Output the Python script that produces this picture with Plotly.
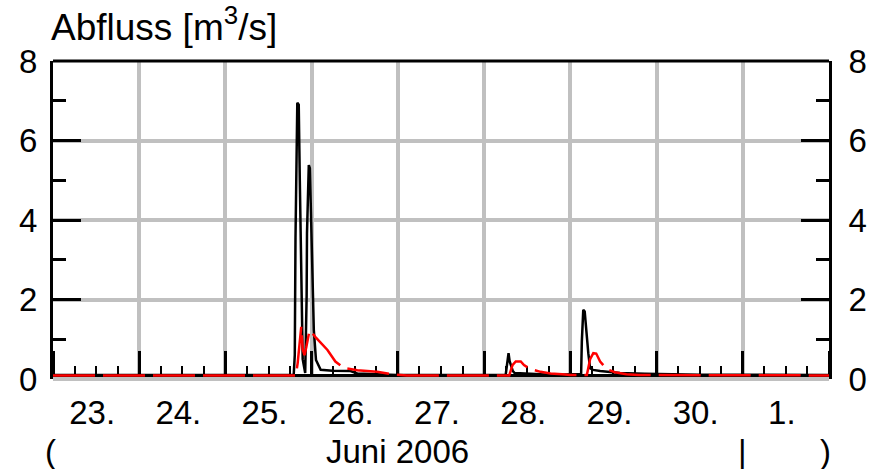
import plotly.graph_objects as go

# Abfluss-Ganglinie, 23. Juni - 1. Juli 2006
# Gemessener Abfluss (schwarz)
obs_time = [
    "2006-06-23 00:00", "2006-06-25 19:00", "2006-06-25 19:18", "2006-06-25 19:30",
    "2006-06-25 20:00", "2006-06-25 20:24", "2006-06-25 20:42", "2006-06-25 21:00",
    "2006-06-25 21:12", "2006-06-25 21:30", "2006-06-25 22:12", "2006-06-25 22:24",
    "2006-06-25 22:36", "2006-06-25 22:42", "2006-06-25 23:12", "2006-06-25 23:30",
    "2006-06-25 23:54", "2006-06-26 00:18", "2006-06-26 00:36", "2006-06-26 01:12",
    "2006-06-26 02:30", "2006-06-26 05:48", "2006-06-26 10:48", "2006-06-26 12:42",
    "2006-06-26 18:12", "2006-06-26 23:42",
    "2006-06-28 06:00", "2006-06-28 06:18", "2006-06-28 06:48", "2006-06-28 07:06",
    "2006-06-28 07:30", "2006-06-28 08:00", "2006-06-28 08:30", "2006-06-28 11:30",
    "2006-06-28 13:00", "2006-06-28 20:00",
    "2006-06-29 00:00", "2006-06-29 03:00", "2006-06-29 03:12", "2006-06-29 03:36",
    "2006-06-29 04:00", "2006-06-29 04:36", "2006-06-29 05:00", "2006-06-29 05:30",
    "2006-06-29 06:18", "2006-06-29 08:18", "2006-06-29 10:30", "2006-06-29 13:48",
    "2006-06-29 20:42", "2006-06-30 12:00", "2006-07-02 00:00",
]
obs_q = [
    0.10, 0.10, 0.60, 3.55,
    6.95, 6.90, 5.00, 3.10,
    1.50, 0.50, 0.15, 1.00,
    2.10, 3.67, 5.38, 5.30,
    3.67, 2.57, 1.23, 0.48,
    0.23, 0.21, 0.20, 0.14,
    0.12, 0.10,
    0.10, 0.30, 0.65, 0.45,
    0.35, 0.20, 0.15, 0.14,
    0.12, 0.10,
    0.12, 0.12, 0.94, 1.74,
    1.70, 0.98, 0.65, 0.27,
    0.23, 0.20, 0.18, 0.15,
    0.13, 0.11, 0.10,
]

# Simulierter Abfluss (rot)
sim_time = [
    "2006-06-23 00:00", "2006-06-25 19:36", "2006-06-25 20:06", "2006-06-25 20:42",
    "2006-06-25 21:06", "2006-06-25 21:30", "2006-06-25 22:00", "2006-06-25 22:30",
    "2006-06-25 23:00", "2006-06-25 23:24", "2006-06-26 00:00", "2006-06-26 01:00",
    "2006-06-26 04:24", "2006-06-26 06:36", "2006-06-26 09:00", "2006-06-26 12:42",
    "2006-06-26 18:12", "2006-06-26 22:18", "2006-06-27 02:30",
    "2006-06-28 07:00", "2006-06-28 07:54", "2006-06-28 08:48", "2006-06-28 10:12",
    "2006-06-28 11:06", "2006-06-28 12:00", "2006-06-28 13:00", "2006-06-28 15:42",
    "2006-06-28 18:30", "2006-06-28 21:42", "2006-06-29 00:00",
    "2006-06-29 04:36", "2006-06-29 05:00", "2006-06-29 05:30", "2006-06-29 06:24",
    "2006-06-29 07:12", "2006-06-29 08:18", "2006-06-29 10:06", "2006-06-29 12:24",
    "2006-06-29 15:36", "2006-06-29 19:00", "2006-07-02 00:00",
]
sim_q = [
    0.09, 0.09, 0.40, 1.00,
    1.31, 0.75, 0.60, 0.80,
    1.10, 1.22, 1.18, 1.06,
    0.73, 0.44, 0.28, 0.22,
    0.18, 0.12, 0.09,
    0.09, 0.35, 0.44, 0.44,
    0.35, 0.30, 0.25, 0.18,
    0.14, 0.12, 0.10,
    0.10, 0.30, 0.50, 0.65,
    0.64, 0.44, 0.25, 0.17,
    0.12, 0.10, 0.09,
]

x_range = ["2006-06-23 00:00", "2006-07-02 00:00"]
month_break = "2006-07-01 00:00"
month_mid = "2006-06-27 00:00"
month_label = "Juni 2006"
y_max = 8
x_axis_level = 0.1  # the time axis runs along the low-flow base line

FONT = "Liberation Sans, Arial, sans-serif"
GRID = "#c0c0c0"
TICK_SIZE = 33

fig = go.Figure()
fig.add_trace(go.Scatter(
    x=obs_time, y=obs_q, mode="lines",
    line=dict(color="black", width=2.5), yaxis="y", hoverinfo="skip",
))
fig.add_trace(go.Scatter(
    x=sim_time, y=sim_q, mode="lines",
    line=dict(color="#ff0000", width=2.5, dash="42px,8px"), yaxis="y2", hoverinfo="skip",
))

y_common = dict(
    range=[0, y_max], dtick=2, tick0=0,
    ticks="inside", ticklen=28, tickwidth=2.5, tickcolor="black",
    showline=True, linecolor="black", linewidth=3,
    tickfont=dict(family=FONT, size=TICK_SIZE, color="black"),
    minor=dict(dtick=1, ticks="inside", ticklen=13, tickwidth=2.5,
               tickcolor="black", showgrid=False),
    fixedrange=True,
)

fig.update_layout(
    width=879, height=469,
    margin=dict(l=53, r=43, t=61, b=90),
    paper_bgcolor="white", plot_bgcolor="white",
    showlegend=False,
    xaxis=dict(
        type="date", range=x_range,
        anchor="free", position=x_axis_level / y_max,
        dtick=86400000, tick0="2006-06-23",
        ticklabelmode="period", tickformat="%-d.",
        ticks="inside", ticklen=23, tickwidth=2.5, tickcolor="black",
        showline=True, linecolor="black", linewidth=2.5,
        showgrid=True, gridcolor=GRID, gridwidth=4,
        tickfont=dict(family=FONT, size=TICK_SIZE, color="black"),
        ticklabelstandoff=8, ticklabelshift=-4,
        minor=dict(dtick=6 * 3600000, ticks="inside", ticklen=8,
                   tickwidth=2, tickcolor="black", showgrid=False),
        layer="below traces",
        fixedrange=True,
    ),
    yaxis=dict(
        **y_common, side="left",
        showgrid=True, gridcolor=GRID, gridwidth=4,
        zeroline=True, zerolinecolor=GRID, zerolinewidth=4,
        ticklabelstandoff=6,
    ),
    yaxis2=dict(
        **y_common, side="right", overlaying="y", anchor="x",
        showgrid=False, zeroline=False,
        ticklabelstandoff=10,
    ),
)

# frame top edge
fig.add_shape(type="line", xref="paper", yref="paper", x0=0, x1=1, y0=1, y1=1,
              line=dict(color="black", width=3))

# title
fig.add_annotation(
    text="Abfluss [m<sup>3</sup>/s]", xref="paper", yref="paper",
    x=0, y=1, xanchor="left", yanchor="bottom", xshift=-4, yshift=11,
    showarrow=False, font=dict(family=FONT, size=37, color="black"),
)

# month row under the day labels
month_font = dict(family=FONT, size=TICK_SIZE, color="black")
for txt, xv, shift in [("(", x_range[0], -3), (month_label, month_mid, 0),
                       ("|", month_break, 0), (")", x_range[1], -4)]:
    fig.add_annotation(
        text=txt, x=xv, xref="x", y=0, yref="paper",
        xanchor="center", yanchor="top", yshift=-52, xshift=shift,
        showarrow=False, font=month_font,
    )

fig.write_html("out.html")
